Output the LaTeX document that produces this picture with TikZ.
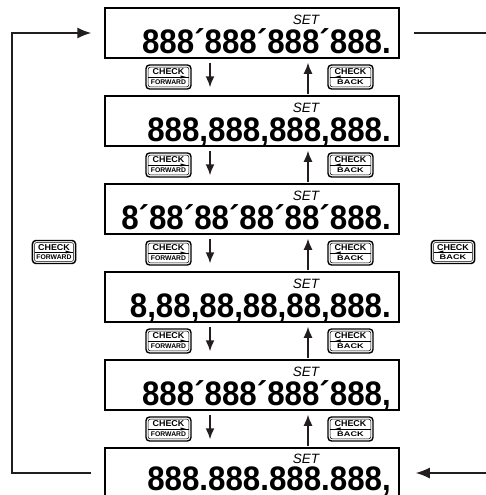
\documentclass[tikz,border=0pt]{standalone}
\usepackage{fontspec}
\usepackage{graphicx}
\setmainfont{Liberation Sans}
\usetikzlibrary{arrows.meta,calc}
\newcommand{\dsp}[1]{\scalebox{0.92}[1]{#1}}
\tikzset{
  dispbox/.style={draw, line width=1.5pt, minimum width=294pt, minimum height=50pt, inner sep=0pt},
  digits/.style={font=\bfseries\fontsize{34}{34}\selectfont, inner sep=0pt, anchor=base east},
  setlbl/.style={font=\itshape\fontsize{13.5}{13.5}\selectfont, inner sep=0pt},
  conn/.style={line width=1.5pt, draw={rgb,255:red,35;green,30;blue,30}},
  varrow/.style={conn, -{Latex[length=11pt,width=9pt]}},
  larrow/.style={conn, -{Latex[length=14pt,width=11pt]}},
  btnframe/.style={line width=1.4pt, rounded corners=3.5pt},
  btninner/.style={line width=0.5pt, rounded corners=2pt},
  btntop/.style={font=\bfseries\fontsize{8.5}{9}\selectfont, inner sep=0pt},
  btnbot/.style={font=\bfseries\fontsize{6.8}{7}\selectfont, inner sep=0pt},
  fwdbtn/.pic={
    \draw[btnframe] (-22.5,-12) rectangle (22.5,12);
    \draw[btninner] (-20.3,-9.8) rectangle (20.3,9.8);
    \draw[line width=0.8pt] (-20.3,0.5) -- (20.3,0.5);
    \fill (12,-1.6) -- (17.5,0) -- (12,1.6) -- cycle;
    \node[btntop] (-top) at (0,-5) {\scalebox{1.05}[1]{CHECK}};
    \node[btnbot] (-bot) at (0,5.3) {FORWARD};
  },
  backbtn/.pic={
    \draw[btnframe] (-22.5,-12) rectangle (22.5,12);
    \draw[btninner] (-20.3,-9.8) rectangle (20.3,9.8);
    \draw[line width=0.8pt] (-20.3,0.5) -- (20.3,0.5);
    \fill (-10,-1.6) -- (-15.5,0) -- (-10,1.6) -- cycle;
    \node[btntop] (-top) at (0,-5) {\scalebox{1.05}[1]{CHECK}};
    \node[btnbot] (-bot) at (0,5.3) {\scalebox{1.35}[1]{BACK}};
  }
}
\begin{document}
\begin{tikzpicture}[x=1pt,y=-1pt]
\useasboundingbox (0,0) rectangle (486,495);
% display boxes (tops at 8 + 88k)
\foreach \i/\t in {1/8,2/96,3/184,4/272,5/360,6/448}{
  \node[dispbox] (b\i) at (252,\t+25) {};
}
\foreach \i/\t in {1/8,2/96,3/184,4/272,5/360}{
  \node[setlbl] (s\i) at (306,\t+12) {SET};
}
\node[setlbl] (s6) at (306,448+10.5) {SET};
\node[digits] (t1) at (391,8+45)   {\dsp{888´888´888´888.}};
\node[digits] (t2) at (391,96+45)  {\dsp{888,888,888,888.}};
\node[digits] (t3) at (391,184+45) {\dsp{8´88´88´88´88´888.}};
\node[digits] (t4) at (391,272+45) {\dsp{8,88,88,88,88,888.}};
\node[digits] (t5) at (391,360+45) {\dsp{888´888´888´888,}};
\node[digits] (t6) at (391,448+42.5) {\dsp{888.888.888.888,}};
% vertical arrows and buttons
\coordinate (dx) at (210,0);
\coordinate (ux) at (308,0);
\foreach \a/\b/\y in {1/2/77,2/3/165,3/4/253,4/5/341,5/6/429}{
  \draw[varrow] ($(b\a.south -| dx)+(0,4)$) -- ($(b\b.north -| dx)+(0,-8)$);
  \draw[varrow] ($(b\b.north -| ux)+(0,-1)$) -- ($(b\a.south -| ux)+(0,4)$);
  \pic (f\a) at (168.5,\y) {fwdbtn};
  \pic (k\a) at (350.5,\y) {backbtn};
}
% outer loop
\coordinate (L) at (12,0);
\coordinate (R) at (487,0);
\draw[larrow] ($(b6.west)+(-13,0)$) -- (L |- b6.west) -- (L |- b1.west) -- ($(b1.west)+(-13,0)$);
\draw[conn] ($(b1.east)+(14,0)$) -- (R |- b1.east);
\draw[larrow] (R |- b6.east) -- ($(b6.east)+(16,0)$);
\pic[scale=0.96] (lf) at (54,252) {fwdbtn};
\pic[scale=0.96] (rk) at (453,252) {backbtn};
\end{tikzpicture}
\end{document}
